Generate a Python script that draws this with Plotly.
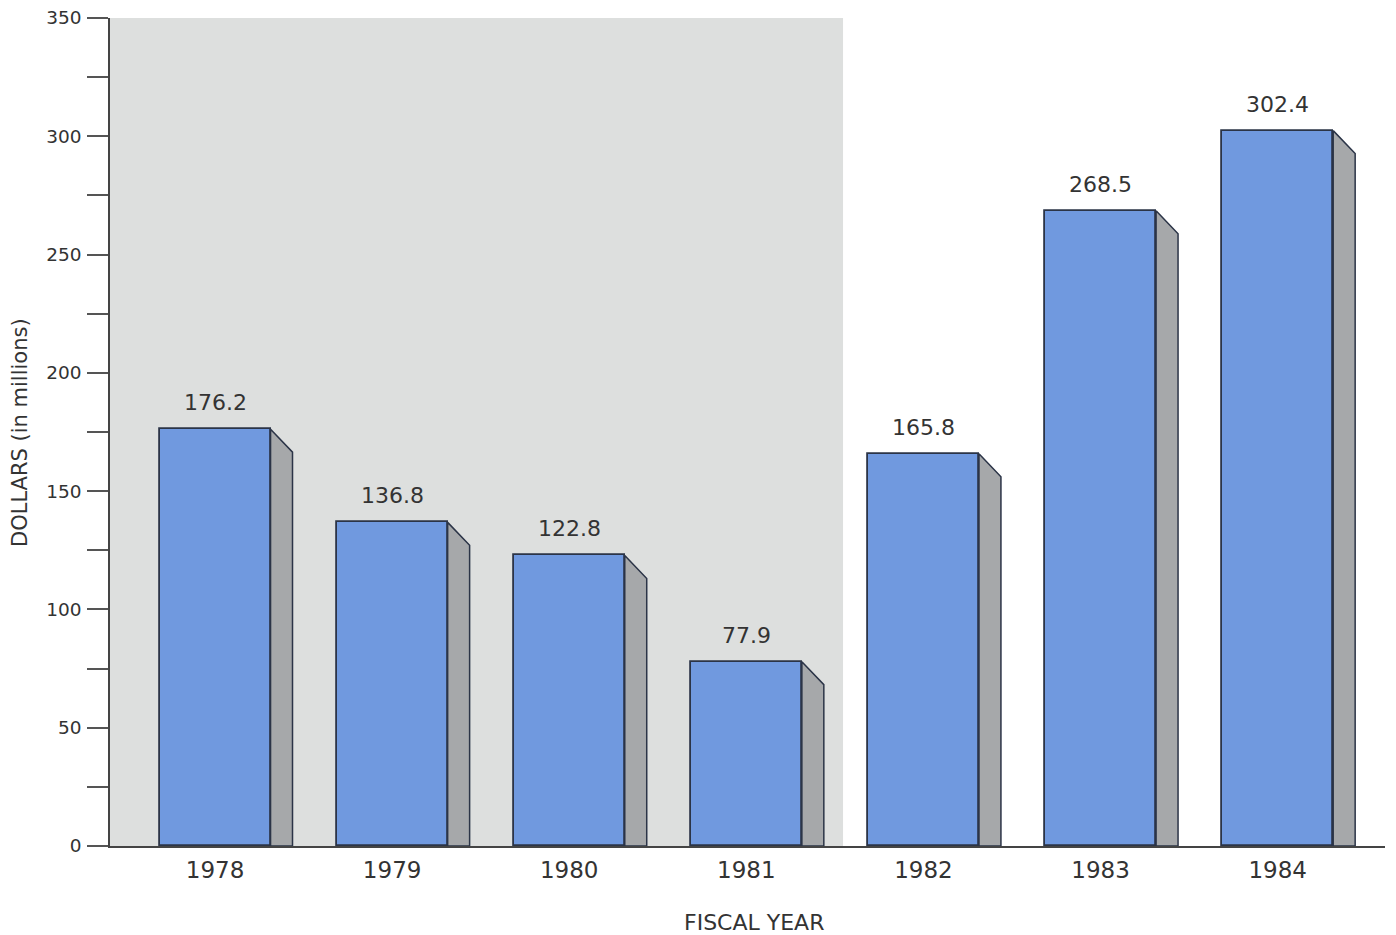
import plotly.graph_objects as go

# Annual funding, fiscal years 1978-1984 (millions of dollars)
years = ["1978", "1979", "1980", "1981", "1982", "1983", "1984"]
dollars = [176.2, 136.8, 122.8, 77.9, 165.8, 268.5, 302.4]
value_labels = ["176.2", "136.8", "122.8", "77.9", "165.8", "268.5", "302.4"]
y_tick_values = [0, 50, 100, 150, 200, 250, 300, 350]

x_pos = list(range(len(years)))
BAR_W = 0.627          # front face width (x units)
DEPTH_X = 0.124        # side face depth (x units)
DEPTH_Y = 9.7          # side face slant drop (y units)
FRONT = "#7099df"
SIDE = "#a6a8aa"
EDGE = "#2b3447"
TEXT = "#333333"
FONT = "DejaVu Sans, Liberation Sans, Arial, sans-serif"

fig = go.Figure()

# Right-hand side faces giving each bar its depth
for x, v in zip(x_pos, dollars):
    r = x + BAR_W / 2
    fig.add_trace(go.Scatter(
        x=[r, r + DEPTH_X, r + DEPTH_X, r, r],
        y=[v, v - DEPTH_Y, 0, 0, v],
        mode="lines", fill="toself", fillcolor=SIDE,
        line=dict(color=EDGE, width=1.5),
        hoverinfo="skip", showlegend=False,
    ))

fig.add_trace(go.Bar(
    x=x_pos, y=dollars, width=BAR_W,
    marker=dict(color=FRONT, line=dict(color=EDGE, width=1.8)),
    showlegend=False,
))

# Value labels above each bar
for x, v, t in zip(x_pos, dollars, value_labels):
    fig.add_annotation(
        x=x, y=v, text=t, showarrow=False, yanchor="bottom", yshift=12,
        font=dict(family=FONT, size=22, color=TEXT),
    )

# Shaded panel behind the 1978-1981 bars
fig.add_shape(
    type="rect", xref="x", yref="y", x0=-0.593, x1=3.546, y0=0, y1=350,
    fillcolor="#dddfde", line=dict(width=0), layer="below",
)

# Vertical axis title
fig.add_annotation(
    xref="paper", yref="paper", x=-0.0706, y=0.5, xanchor="center", yanchor="middle",
    text="DOLLARS (in millions)", textangle=-90, showarrow=False,
    font=dict(family=FONT, size=21, color=TEXT),
)

# Horizontal axis title
fig.add_annotation(
    xref="paper", yref="paper", x=0.505, y=-0.0925, xanchor="center", yanchor="middle",
    text="FISCAL YEAR", showarrow=False,
    font=dict(family=FONT, size=22, color=TEXT),
)

fig.update_layout(
    width=1396, height=935,
    margin=dict(l=110, r=11, t=18, b=89),
    paper_bgcolor="white", plot_bgcolor="white",
    font=dict(family=FONT, color=TEXT),
    bargap=0,
)

fig.update_xaxes(
    range=[-0.593, 6.606], automargin=False,
    tickmode="array", tickvals=x_pos, ticktext=years,
    tickfont=dict(size=23, color=TEXT), ticks="", ticklabelstandoff=3,
    showline=True, linecolor="#444444", linewidth=1.5,
    showgrid=False, zeroline=False,
)

fig.update_yaxes(
    range=[0, 350], automargin=False,
    tickmode="array", tickvals=y_tick_values,
    tickfont=dict(size=18.5, color=TEXT),
    ticks="outside", ticklen=21, tickcolor="#555555", tickwidth=1.5,
    ticklabelstandoff=2,
    minor=dict(dtick=25, tick0=0, ticks="outside", ticklen=21,
               tickcolor="#555555", tickwidth=1.5),
    showline=True, linecolor="#444444", linewidth=1.5,
    showgrid=False, zeroline=False,
)

fig.write_html("out.html")
